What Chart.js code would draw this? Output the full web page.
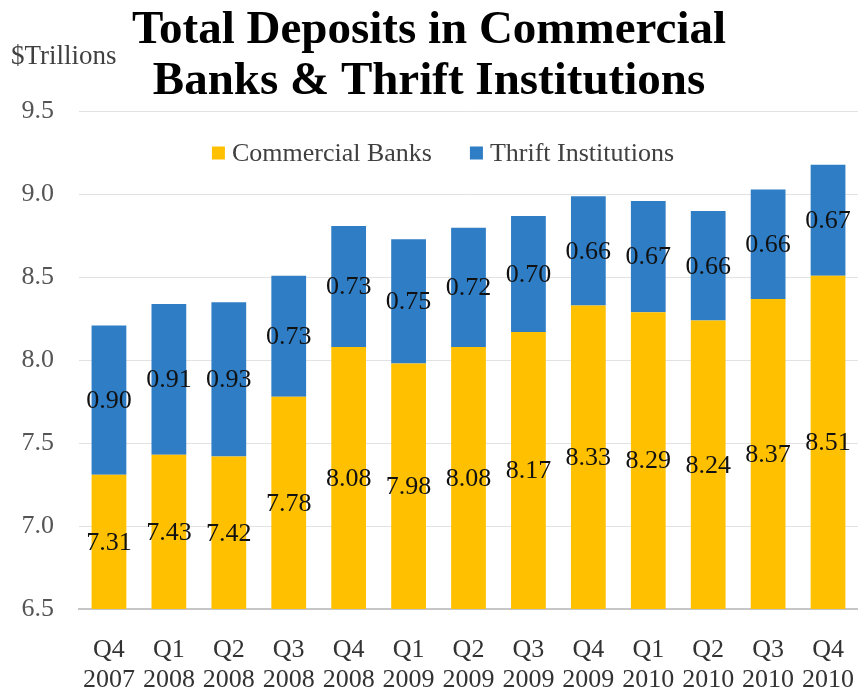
<!DOCTYPE html>
<html>
<head>
<meta charset="utf-8">
<title>Total Deposits in Commercial Banks & Thrift Institutions</title>
<script src="https://cdn.jsdelivr.net/npm/chart.js@4.4.1/dist/chart.umd.min.js"></script>
<style>
  html, body { margin: 0; padding: 0; background: #fff; }
  #wrap { width: 858px; height: 692px; }
</style>
</head>
<body>
<div id="wrap"><canvas id="deposits"></canvas></div>
<script>
// quarterly deposits, $ trillions
const quarters = ["Q4", "Q1", "Q2", "Q3", "Q4", "Q1", "Q2", "Q3", "Q4", "Q1", "Q2", "Q3", "Q4"];
const years = ["2007", "2008", "2008", "2008", "2008", "2009", "2009", "2009", "2009", "2010", "2010", "2010", "2010"];
const commercial = [7.31, 7.43, 7.42, 7.78, 8.08, 7.98, 8.08, 8.17, 8.33, 8.29, 8.24, 8.37, 8.51];
const thrift = [0.90, 0.91, 0.93, 0.73, 0.73, 0.75, 0.72, 0.70, 0.66, 0.67, 0.66, 0.66, 0.67];
const yMin = 6.5, yMax = 9.5, yStep = 0.5;

const SERIF = "'Liberation Serif', 'Times New Roman', serif";

const labels = quarters.map((q, i) => [q, years[i]]);

// value labels centred in the visible part of each bar segment
const barValues = {
    id: 'barValues',
    afterDatasetsDraw(chart) {
        const ctx = chart.ctx;
        const area = chart.chartArea;
        ctx.save();
        ctx.font = "26px " + SERIF;
        ctx.fillStyle = '#111';
        ctx.textAlign = 'center';
        ctx.textBaseline = 'middle';
        chart.data.datasets.forEach((ds, di) => {
            const meta = chart.getDatasetMeta(di);
            meta.data.forEach((bar, i) => {
                const top = Math.max(bar.y, area.top);
                const base = Math.min(bar.base, area.bottom);
                ctx.fillText(ds.data[i].toFixed(2), bar.x, (top + base) / 2 + 1);
            });
        });
        ctx.restore();
    }
};

// unit caption and the legend sitting inside the plot area
const extras = {
    id: 'extras',
    afterDraw(chart) {
        const ctx = chart.ctx;
        ctx.save();
        ctx.font = "27px " + SERIF;
        ctx.fillStyle = '#404040';
        ctx.textBaseline = 'alphabetic';
        ctx.textAlign = 'left';
        ctx.fillText('$Trillions', 11, 64);

        ctx.font = "26px " + SERIF;
        const items = chart.data.datasets.map(ds => ({
            text: ds.label,
            color: ds.backgroundColor,
            w: ctx.measureText(ds.label).width
        }));
        const box = 13, gap = 7, spacing = 38;
        let total = 0;
        items.forEach((it, i) => { total += box + gap + it.w + (i ? spacing : 0); });
        let x = 443 - total / 2;
        const y = 153;
        items.forEach(it => {
            ctx.fillStyle = it.color;
            ctx.fillRect(x, y - box / 2, box, box);
            x += box + gap;
            ctx.fillStyle = '#404040';
            ctx.textBaseline = 'middle';
            ctx.fillText(it.text, x, y + 1);
            x += it.w + spacing;
        });
        ctx.restore();
    }
};

new Chart(document.getElementById('deposits'), {
    type: 'bar',
    data: {
        labels: labels,
        datasets: [
            { label: 'Commercial Banks', data: commercial, backgroundColor: '#FFC000' },
            { label: 'Thrift Institutions', data: thrift, backgroundColor: '#2E7DC5' }
        ]
    },
    options: {
        responsive: true,
        maintainAspectRatio: false,
        animation: false,
        barPercentage: 0.58,
        categoryPercentage: 1.0,
        layout: { padding: { top: 0, right: 0, bottom: 0, left: 0 } },
        plugins: {
            legend: { display: false },
            tooltip: { enabled: false },
            title: {
                display: true,
                text: ['Total Deposits in Commercial', 'Banks & Thrift Institutions'],
                color: '#000',
                font: { family: SERIF, size: 47, weight: 'bold', lineHeight: 1.07 },
                padding: { top: 6, bottom: 5 }
            }
        },
        scales: {
            x: {
                stacked: true,
                afterFit(scale) {
                    scale.height = 83;
                    scale.paddingLeft = 0;
                    scale.paddingRight = 0;
                },
                grid: { display: false, drawTicks: false },
                border: { display: true, color: '#c6c6c6', width: 2 },
                ticks: {
                    color: '#333',
                    font: { family: SERIF, size: 26, lineHeight: 1.12 },
                    padding: 27,
                    maxRotation: 0,
                    autoSkip: false
                }
            },
            y: {
                stacked: true,
                min: yMin,
                max: yMax,
                afterFit(scale) { scale.width = 79; },
                grid: { color: '#e2e2e2', lineWidth: 1, drawTicks: false },
                border: { display: false },
                ticks: {
                    stepSize: yStep,
                    color: '#555',
                    padding: 25,
                    font: { family: SERIF, size: 26 },
                    callback: v => v.toFixed(1)
                }
            }
        }
    },
    plugins: [barValues, extras]
});
</script>
</body>
</html>
